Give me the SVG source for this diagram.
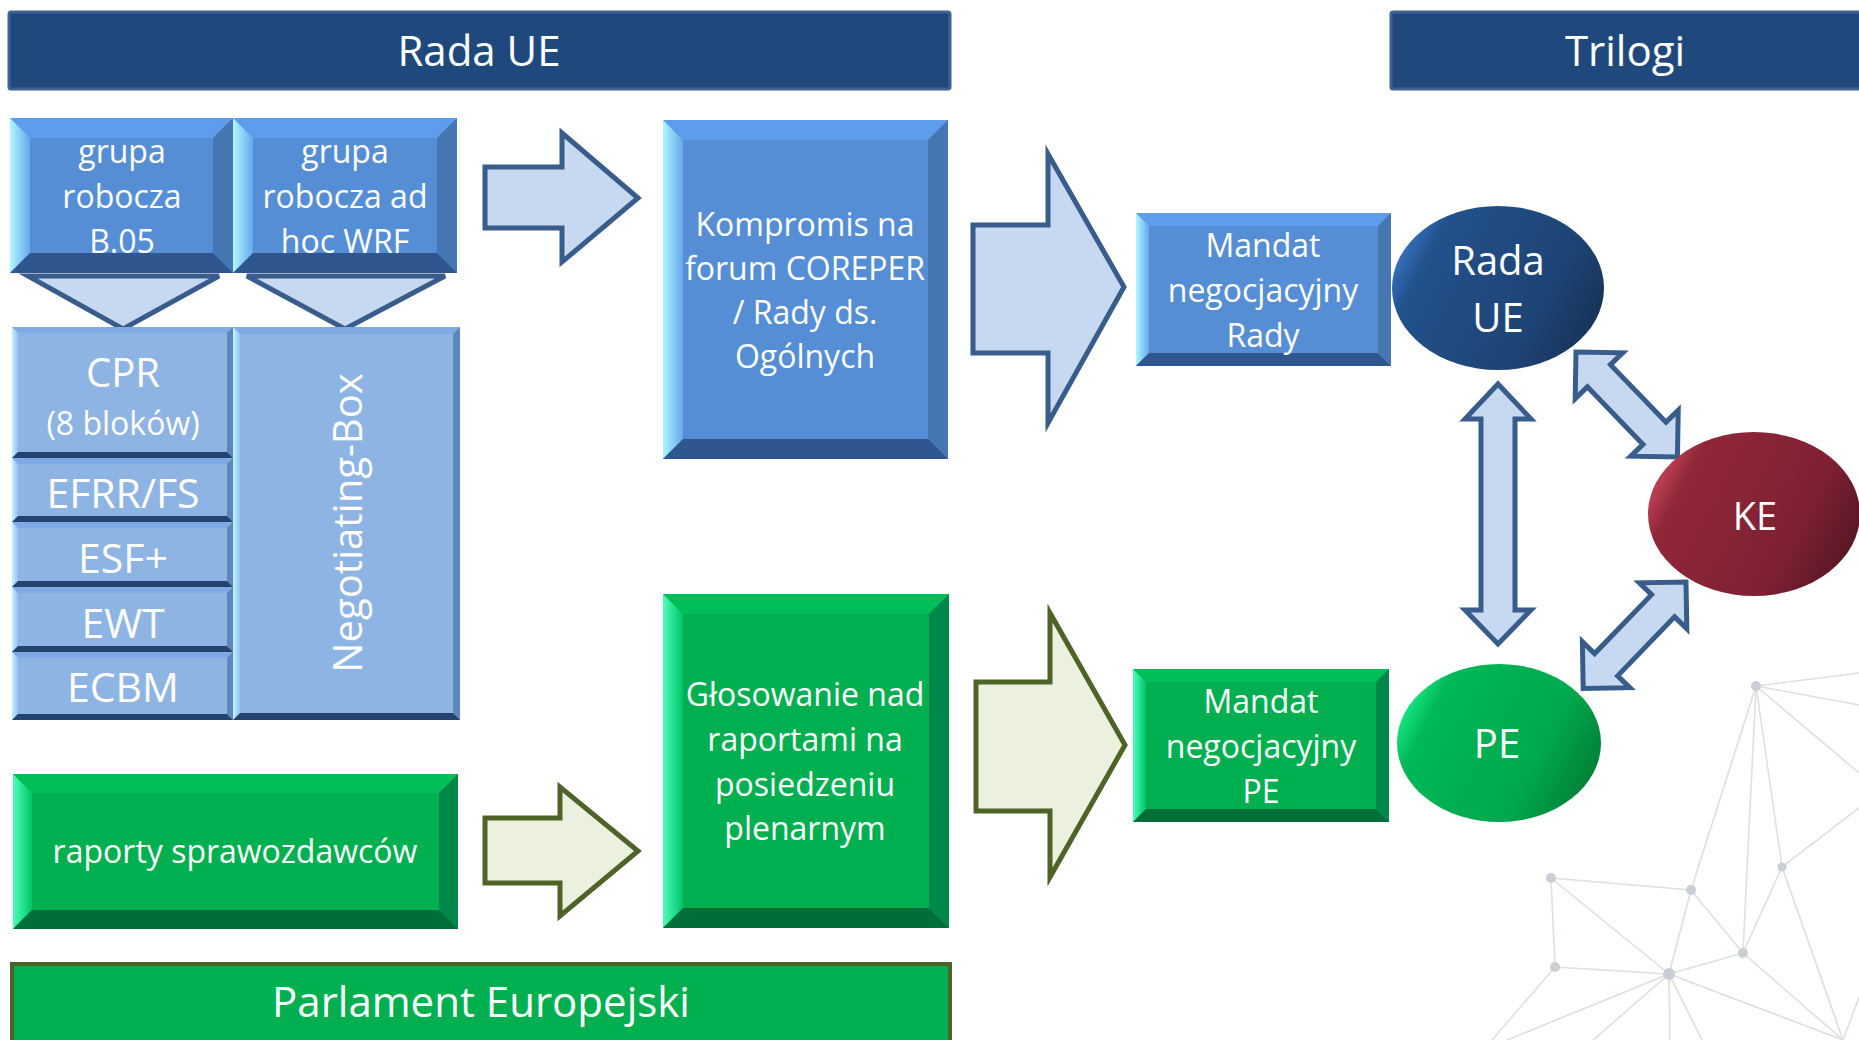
<svg xmlns="http://www.w3.org/2000/svg" width="1859" height="1040" viewBox="0 0 1859 1040">
<defs>
<style>
.t{font-family:"Open Sans","Noto Sans",sans-serif;fill:#fff;text-anchor:middle}
.hdr{fill:#1F497D;stroke:#3F6390;stroke-width:3}
.fb{fill:#558ED5}.tb{fill:#5E9DEC}.lb{fill:url(#gLb)}.rb{fill:#4677B3}.bb{fill:#2F568E}
.fl{fill:#8EB4E3}.tl{fill:#7FAAE4}.ll{fill:url(#gLl)}.rl{fill:#5E86BC}.bl{fill:#24436F}
.fg{fill:#00B050}.tg{fill:#00BF58}.lg{fill:url(#gLg)}.rg{fill:#00874A}.bg{fill:#006E39}
.ab{fill:#C6D9F1;stroke:#385D8A;stroke-width:5;stroke-linejoin:miter}
.ag{fill:#EBF1DE;stroke:#4F6228;stroke-width:5;stroke-linejoin:miter}
.tri{fill:#C6D9F1;stroke:#385D8A;stroke-width:5;stroke-linejoin:miter}
.net line{stroke:#DCE0E3;stroke-width:1.6}
.net circle{fill:#C9CFD4}
</style>
<linearGradient id="gLb" x1="0" y1="0" x2="1" y2="0"><stop offset="0" stop-color="#B0F7FF"/><stop offset="1" stop-color="#64A8EE"/></linearGradient>
<linearGradient id="gLl" x1="0" y1="0" x2="1" y2="0"><stop offset="0" stop-color="#C4F2FF"/><stop offset="1" stop-color="#8FC2F0"/></linearGradient>
<linearGradient id="gLg" x1="0" y1="0" x2="1" y2="0"><stop offset="0" stop-color="#4DFFB8"/><stop offset="1" stop-color="#00C468"/></linearGradient>
<linearGradient id="gRada" x1="0" y1="0.3" x2="1" y2="0.7"><stop offset="0" stop-color="#3877C8"/><stop offset="0.15" stop-color="#22518B"/><stop offset="0.7" stop-color="#1E4476"/><stop offset="1" stop-color="#163357"/></linearGradient>
<linearGradient id="gKE" x1="0" y1="0.3" x2="1" y2="0.7"><stop offset="0" stop-color="#CB475E"/><stop offset="0.15" stop-color="#902739"/><stop offset="0.7" stop-color="#7E2133"/><stop offset="1" stop-color="#561622"/></linearGradient>
<linearGradient id="gPE" x1="0" y1="0.3" x2="1" y2="0.7"><stop offset="0" stop-color="#1CF08C"/><stop offset="0.15" stop-color="#00B858"/><stop offset="0.7" stop-color="#00A84C"/><stop offset="1" stop-color="#007C36"/></linearGradient>
</defs>
<rect width="1859" height="1040" fill="#fff"/>

<g class="net" id="network">
<line x1="1756" y1="686" x2="1859" y2="673"/>
<line x1="1756" y1="686" x2="1859" y2="705"/>
<line x1="1756" y1="686" x2="1859" y2="773"/>
<line x1="1756" y1="686" x2="1691" y2="890"/>
<line x1="1756" y1="686" x2="1743" y2="953"/>
<line x1="1756" y1="686" x2="1782" y2="867"/>
<line x1="1782" y1="867" x2="1859" y2="808"/>
<line x1="1782" y1="867" x2="1743" y2="953"/>
<line x1="1782" y1="867" x2="1843" y2="1040"/>
<line x1="1551" y1="878" x2="1691" y2="890"/>
<line x1="1551" y1="878" x2="1555" y2="967"/>
<line x1="1551" y1="878" x2="1669" y2="974"/>
<line x1="1691" y1="890" x2="1669" y2="974"/>
<line x1="1691" y1="890" x2="1743" y2="953"/>
<line x1="1555" y1="967" x2="1669" y2="974"/>
<line x1="1555" y1="967" x2="1492" y2="1040"/>
<line x1="1669" y1="974" x2="1743" y2="953"/>
<line x1="1669" y1="974" x2="1507" y2="1040"/>
<line x1="1669" y1="974" x2="1593" y2="1040"/>
<line x1="1669" y1="974" x2="1670" y2="1040"/>
<line x1="1669" y1="974" x2="1702" y2="1040"/>
<line x1="1669" y1="974" x2="1843" y2="1040"/>
<line x1="1743" y1="953" x2="1843" y2="1040"/>
<line x1="1843" y1="1040" x2="1859" y2="997"/>
<circle cx="1756" cy="686" r="5"/>
<circle cx="1551" cy="878" r="5"/>
<circle cx="1691" cy="890" r="5"/>
<circle cx="1782" cy="867" r="4.5"/>
<circle cx="1743" cy="953" r="5"/>
<circle cx="1555" cy="967" r="5"/>
<circle cx="1669" cy="974" r="6"/>
</g>

<g id="hdr-rada">
<rect class="hdr" x="9" y="12" width="941" height="77" rx="2"/>
<text class="t" x="479" y="66" font-size="42">Rada UE</text>
</g>
<g id="hdr-trilogi">
<rect class="hdr" x="1391" y="12" width="480" height="77" rx="2"/>
<text class="t" x="1625" y="66" font-size="42">Trilogi</text>
</g>

<g id="connectors">
<polygon class="tri" points="28,276 219,276 123,329"/>
<polygon class="tri" points="247,276 445,276 345,329"/>
<polygon class="ab" points="485,167 562,167 562,133 638,198 562,262 562,228 485,228"/>
<polygon class="ab" points="973,225 1048,225 1048,154 1124,287 1048,423 1048,353 973,353"/>
<polygon class="ag" points="485,818 560,818 560,787 638,851 560,916 560,883 485,883"/>
<polygon class="ag" points="976,682 1050,682 1050,613 1125,745 1050,877 1050,811 976,811"/>
<path class="ab" d="M1498,384 L1531,419 L1515,419 L1515,610 L1531,610 L1498,644 L1465,610 L1481,610 L1481,419 L1465,419 Z"/>
<path class="ab" transform="translate(1576,352) rotate(46)" d="M0,0 L33,-33 L33,-16 L113,-16 L113,-33 L146,0 L113,33 L113,16 L33,16 L33,33 Z"/>
<path class="ab" transform="translate(1686,582) rotate(134)" d="M0,0 L33,-33 L33,-16 L115,-16 L115,-33 L148,0 L115,33 L115,16 L33,16 L33,33 Z"/>
</g>

<g id="grupa-b05">
<rect class="fb" x="10" y="118" width="223" height="155"/>
<polygon class="tb" points="10,118 233,118 213,138 30,138"/>
<polygon class="lb" points="10,118 30,138 30,253 10,273"/>
<polygon class="rb" points="233,118 233,273 213,253 213,138"/>
<polygon class="bb" points="10,273 233,273 213,253 30,253"/>
<text class="t" font-size="32"><tspan x="122" y="163">grupa</tspan><tspan x="122" y="208">robocza</tspan><tspan x="122" y="253">B.05</tspan></text>
</g>

<g id="grupa-wrf">
<rect class="fb" x="233" y="118" width="224" height="155"/>
<polygon class="tb" points="233,118 457,118 437,138 253,138"/>
<polygon class="lb" points="233,118 253,138 253,253 233,273"/>
<polygon class="rb" points="457,118 457,273 437,253 437,138"/>
<polygon class="bb" points="233,273 457,273 437,253 253,253"/>
<text class="t" font-size="32"><tspan x="345" y="163">grupa</tspan><tspan x="345" y="208">robocza ad</tspan><tspan x="345" y="253">hoc WRF</tspan></text>
</g>

<g id="cpr">
<rect class="fl" x="12" y="327" width="221" height="131"/>
<polygon class="tl" points="12,327 233,327 227,333 18,333"/>
<polygon class="ll" points="12,327 18,333 18,452 12,458"/>
<polygon class="rl" points="233,327 233,458 227,452 227,333"/>
<polygon class="bl" points="12,458 233,458 227,452 18,452"/>
<text class="t" x="123" y="387" font-size="40">CPR</text>
<text class="t" x="123" y="435" font-size="32">(8 bloków)</text>
</g>

<g id="efrr">
<rect class="fl" x="12" y="458" width="221" height="64"/>
<polygon class="tl" points="12,458 233,458 227,464 18,464"/>
<polygon class="ll" points="12,458 18,464 18,516 12,522"/>
<polygon class="rl" points="233,458 233,522 227,516 227,464"/>
<polygon class="bl" points="12,522 233,522 227,516 18,516"/>
<text class="t" x="123" y="508" font-size="41">EFRR/FS</text>
</g>

<g id="esf">
<rect class="fl" x="12" y="522" width="221" height="65"/>
<polygon class="tl" points="12,522 233,522 227,528 18,528"/>
<polygon class="ll" points="12,522 18,528 18,581 12,587"/>
<polygon class="rl" points="233,522 233,587 227,581 227,528"/>
<polygon class="bl" points="12,587 233,587 227,581 18,581"/>
<text class="t" x="123" y="573" font-size="41">ESF+</text>
</g>

<g id="ewt">
<rect class="fl" x="12" y="587" width="221" height="65"/>
<polygon class="tl" points="12,587 233,587 227,593 18,593"/>
<polygon class="ll" points="12,587 18,593 18,646 12,652"/>
<polygon class="rl" points="233,587 233,652 227,646 227,593"/>
<polygon class="bl" points="12,652 233,652 227,646 18,646"/>
<text class="t" x="123" y="638" font-size="41">EWT</text>
</g>

<g id="ecbm">
<rect class="fl" x="12" y="652" width="221" height="68"/>
<polygon class="tl" points="12,652 233,652 227,658 18,658"/>
<polygon class="ll" points="12,652 18,658 18,714 12,720"/>
<polygon class="rl" points="233,652 233,720 227,714 227,658"/>
<polygon class="bl" points="12,720 233,720 227,714 18,714"/>
<text class="t" x="123" y="702" font-size="41">ECBM</text>
</g>

<g id="negotiating-box">
<rect class="fl" x="233" y="327" width="227" height="393"/>
<polygon class="tl" points="233,327 460,327 453,334 240,334"/>
<polygon class="ll" points="233,327 240,334 240,713 233,720"/>
<polygon class="rl" points="460,327 460,720 453,713 453,334"/>
<polygon class="bl" points="233,720 460,720 453,713 240,713"/>
<text class="t" font-size="40" transform="translate(362,523) rotate(-90)" x="0" y="0">Negotiating-Box</text>
</g>

<g id="kompromis">
<rect class="fb" x="663" y="120" width="285" height="339"/>
<polygon class="tb" points="663,120 948,120 928,140 683,140"/>
<polygon class="lb" points="663,120 683,140 683,439 663,459"/>
<polygon class="rb" points="948,120 948,459 928,439 928,140"/>
<polygon class="bb" points="663,459 948,459 928,439 683,439"/>
<text class="t" font-size="32"><tspan x="805" y="236">Kompromis na</tspan><tspan x="805" y="280">forum COREPER</tspan><tspan x="805" y="324">/ Rady ds.</tspan><tspan x="805" y="368">Ogólnych</tspan></text>
</g>

<g id="mandat-rady">
<rect class="fb" x="1136" y="213" width="255" height="153"/>
<polygon class="tb" points="1136,213 1391,213 1378,226 1149,226"/>
<polygon class="lb" points="1136,213 1149,226 1149,353 1136,366"/>
<polygon class="rb" points="1391,213 1391,366 1378,353 1378,226"/>
<polygon class="bb" points="1136,366 1391,366 1378,353 1149,353"/>
<text class="t" font-size="32"><tspan x="1263" y="257">Mandat</tspan><tspan x="1263" y="302">negocjacyjny</tspan><tspan x="1263" y="347">Rady</tspan></text>
</g>

<g id="rada-ue">
<ellipse cx="1498" cy="288" rx="106" ry="82" fill="url(#gRada)"/>
<text class="t" font-size="40"><tspan x="1498" y="275">Rada</tspan><tspan x="1498" y="332">UE</tspan></text>
</g>

<g id="ke">
<ellipse cx="1754" cy="514" rx="106" ry="82" fill="url(#gKE)"/>
<text class="t" x="1755" y="530" font-size="38">KE</text>
</g>

<g id="pe">
<ellipse cx="1499" cy="743" rx="102" ry="79" fill="url(#gPE)"/>
<text class="t" x="1497" y="758" font-size="40">PE</text>
</g>

<g id="raporty">
<rect class="fg" x="13" y="774" width="445" height="155"/>
<polygon class="tg" points="13,774 458,774 439,793 32,793"/>
<polygon class="lg" points="13,774 32,793 32,910 13,929"/>
<polygon class="rg" points="458,774 458,929 439,910 439,793"/>
<polygon class="bg" points="13,929 458,929 439,910 32,910"/>
<text class="t" x="235" y="863" font-size="32">raporty sprawozdawców</text>
</g>

<g id="glosowanie">
<rect class="fg" x="663" y="594" width="286" height="334"/>
<polygon class="tg" points="663,594 949,594 929,614 683,614"/>
<polygon class="lg" points="663,594 683,614 683,908 663,928"/>
<polygon class="rg" points="949,594 949,928 929,908 929,614"/>
<polygon class="bg" points="663,928 949,928 929,908 683,908"/>
<text class="t" font-size="32"><tspan x="805" y="706">Głosowanie nad</tspan><tspan x="805" y="751">raportami na</tspan><tspan x="805" y="796">posiedzeniu</tspan><tspan x="805" y="840">plenarnym</tspan></text>
</g>

<g id="mandat-pe">
<rect class="fg" x="1133" y="669" width="256" height="153"/>
<polygon class="tg" points="1133,669 1389,669 1376,682 1146,682"/>
<polygon class="lg" points="1133,669 1146,682 1146,809 1133,822"/>
<polygon class="rg" points="1389,669 1389,822 1376,809 1376,682"/>
<polygon class="bg" points="1133,822 1389,822 1376,809 1146,809"/>
<text class="t" font-size="32"><tspan x="1261" y="713">Mandat</tspan><tspan x="1261" y="758">negocjacyjny</tspan><tspan x="1261" y="803">PE</tspan></text>
</g>

<g id="hdr-parlament">
<rect x="12" y="964" width="938" height="82" fill="#00B050" stroke="#4F6228" stroke-width="4"/>
<text class="t" x="481" y="1017" font-size="42">Parlament Europejski</text>
</g>
</svg>
